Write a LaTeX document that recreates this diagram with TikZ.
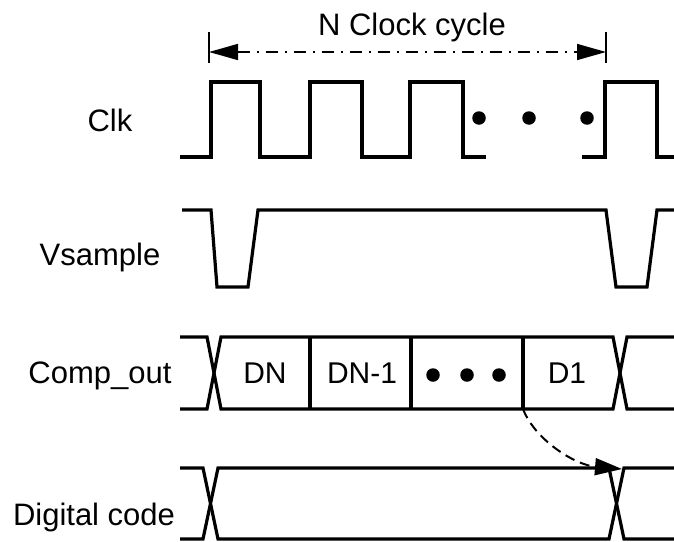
\documentclass[tikz,border=0pt]{standalone}
\usepackage{fontspec}
\setmainfont{Liberation Sans}
\usetikzlibrary{arrows.meta}

\begin{document}
\begin{tikzpicture}[
  x=1pt,y=-1pt,
  wave/.style={line width=3.2pt},
  sig/.style={font=\fontsize{31}{36}\selectfont,anchor=base,inner sep=0pt},
  val/.style={font=\fontsize{30}{36}\selectfont,inner sep=0pt},
  dot/.style={circle,fill,inner sep=0pt,minimum size=13.5pt},
  bar/.style={line width=1.3pt},
  span/.style={{Triangle[length=29pt,width=16pt]}-{Triangle[length=29pt,width=16pt]},line width=1.6pt,dash pattern=on 12pt off 7pt on 2pt off 7pt},
  link/.style={-{Triangle[length=27pt,width=17pt]},line width=2pt,dash pattern=on 10pt off 6pt}
]
\useasboundingbox (0,0) rectangle (674,541);
\node[sig] (clk) at (110,131) {Clk};
\node[sig] (vsample) at (100,265) {Vsample};
\node[sig] (comp) at (100,383) {Comp\_out};
\node[sig] (code) at (94,525) {Digital code};
\node[sig] (ncycle) at (412,35) {N Clock cycle};
% span of the conversion
\draw[bar] (209,32) coordinate (sl) -- (209,63);
\draw[bar] (606,32) coordinate (sr) -- (606,63);
\draw[span] ([yshift=-20pt]sl) -- ([yshift=-20pt]sr);
% clock
\draw[wave] (180,157) -- (211,157) -- (211,82) -- (260,82) -- (260,157) -- (310,157) -- (310,82) -- (362,82) -- (362,157)
  -- (410,157) -- (410,82) -- (463,82) -- (463,157) -- (486,157);
\draw[wave] (582,157) -- (605,157) -- (605,82) -- (657,82) -- (657,157) -- (674,157);
\foreach \x in {479,529,587} \node[dot] at (\x,118) {};
% sample
\draw[wave] (182,210) -- (211,210) -- (217,287) -- (248,287) -- (258,210) -- (606,210) -- (616,287) -- (647,287) -- (657,210) -- (674,210);
% comparator bits
\draw[wave] (180,337) -- (207,337) -- (221,409) -- (613,409) -- (627,337) -- (674,337);
\draw[wave] (180,409) -- (207,409) -- (221,337) -- (613,337) -- (627,409) -- (674,409);
\foreach \x in {310,411,523} \draw[wave] (\x,337) -- (\x,409);
\coordinate (d1) at (523,409);
\node[val] (dn) at (265,373) {DN};
\node[val] (dn1) at (362,373) {DN-1};
\node[val] (d1txt) at (567,373) {D1};
\foreach \x in {433,467,499} \node[dot] at (\x,375) {};
% output code
\draw[wave] (180,468) -- (203,468) -- (218,539) -- (609,539) -- (624,468) -- (674,468);
\draw[wave] (180,539) -- (203,539) -- (218,468) -- (609,468) -- (624,539) -- (674,539);
\coordinate (out) at (622,469);
\draw[link] (d1) .. controls (535,440) and (575,465) .. (out);
\end{tikzpicture}
\end{document}
